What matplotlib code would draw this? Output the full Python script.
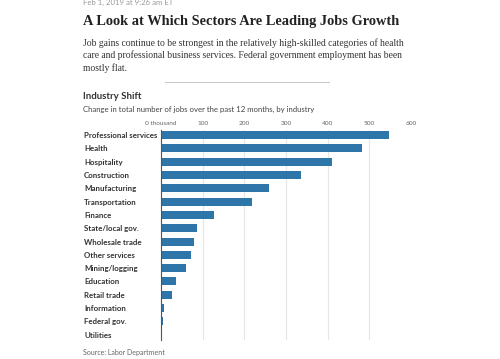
import matplotlib
matplotlib.use("Agg")
import matplotlib.pyplot as plt
import numpy as np

# data (thousands of jobs, 12-month change)
industries = ["Professional services", "Health", "Hospitality", "Construction",
              "Manufacturing", "Transportation", "Finance", "State/local gov.",
              "Wholesale trade", "Other services", "Mining/logging", "Education",
              "Retail trade", "Information", "Federal gov.", "Utilities"]
job_change = [546, 482, 410, 337, 260, 219, 127, 86, 79, 72, 61, 37, 26, 8, 4, 0]
x_ticks = [0, 100, 200, 300, 400, 500, 600]
x_tick_labels = ["0 thousand", "100", "200", "300", "400", "500", "600"]

SANS = ["Lato", "DejaVu Sans"]
SERIF = ["Liberation Serif", "DejaVu Serif"]
DARK = "#333333"
GREY = "#666666"
BAR = "#2e75aa"


def px(x, y):
    # pixel coords (from top-left) to figure fraction
    return x / 500, 1 - y / 359


def main():
    fig = plt.figure(figsize=(5, 3.59), dpi=100)

    # header
    fig.text(*px(83, 2.5), "Feb 1, 2019 at 9:26 am ET", family=SANS, fontsize=5.6,
             color="#999999", va="center")
    fig.text(*px(83, 22), "A Look at Which Sectors Are Leading Jobs Growth",
             family=SERIF, fontsize=10.4, weight="bold", color="#222222", va="center")
    sub = ["Job gains continue to be strongest in the relatively high-skilled categories of health",
           "care and professional business services. Federal government employment has been",
           "mostly flat."]
    for i, line in enumerate(sub):
        fig.text(*px(83, 43 + i * 12.5), line, family=SERIF, fontsize=6.9,
                 color=DARK, va="center")
    fig.add_artist(plt.Line2D([165 / 500, 329 / 500], [1 - 82 / 359] * 2,
                              color="#cccccc", lw=0.8))

    fig.text(*px(83, 97), "Industry Shift", family=SANS, fontsize=6.9,
             weight="bold", color=DARK, va="center")
    fig.text(*px(83, 109), "Change in total number of jobs over the past 12 months, by industry",
             family=SANS, fontsize=5.6, color="#444444", va="center")
    fig.text(*px(83, 352), "Source: Labor Department", family=SANS, fontsize=5,
             color=GREY, va="center")

    ax = fig.add_axes([161 / 500, 19 / 359, 250 / 500, 210 / 359])
    y = np.arange(len(industries))
    ax.barh(y, job_change, height=0.6, color=BAR, zorder=3)

    ax.set_xlim(0, 600)
    ax.set_ylim(15.4, -0.38)
    ax.set_xticks(x_ticks)
    ax.set_xticklabels(x_tick_labels, family=SANS, fontsize=4.6, color=GREY)
    ax.xaxis.tick_top()
    ax.tick_params(axis="x", length=0, pad=3)
    ax.grid(axis="x", color="#e6e6e6", lw=0.8, zorder=0)

    ax.set_yticks(y)
    ax.set_yticklabels(industries, family=SANS, fontsize=5.7, weight="bold",
                       color=DARK, ha="left")
    ax.tick_params(axis="y", length=0, pad=55.4)

    for s in ["top", "right", "bottom"]:
        ax.spines[s].set_visible(False)
    ax.spines["left"].set_color("#555555")
    ax.spines["left"].set_linewidth(0.8)
    ax.spines["left"].set_zorder(4)

    fig.savefig("out.png", dpi=100)


if __name__ == "__main__":
    main()
